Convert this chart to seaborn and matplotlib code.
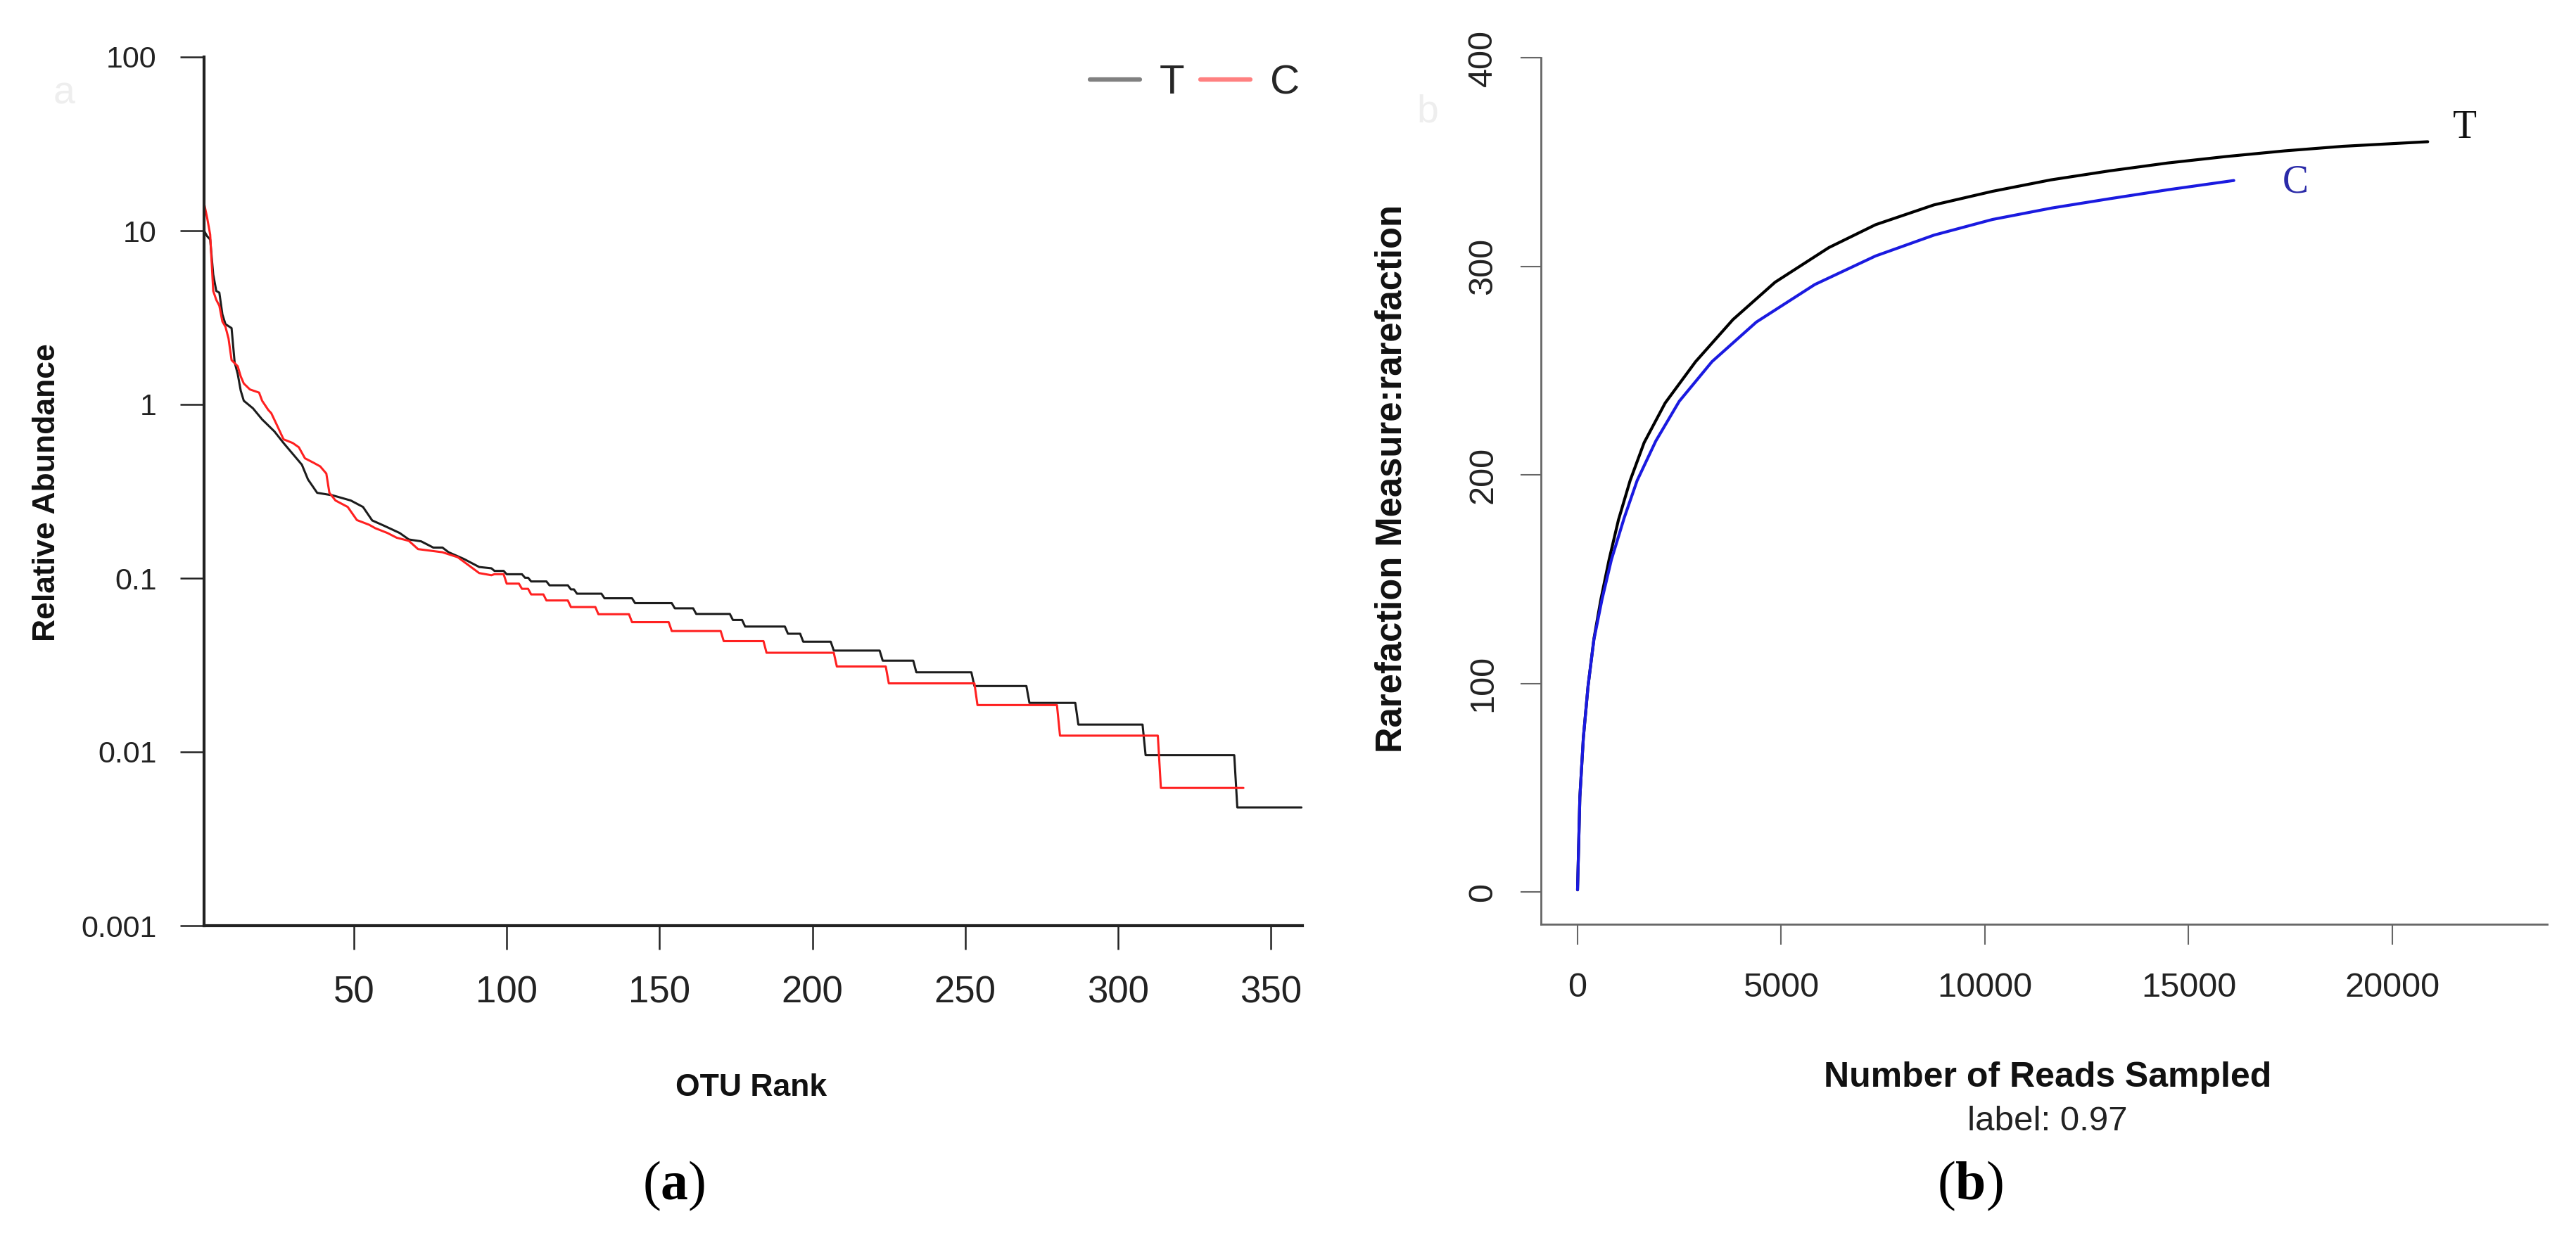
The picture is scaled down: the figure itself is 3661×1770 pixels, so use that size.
import numpy as np
import pandas as pd
import matplotlib
matplotlib.use("Agg")
import matplotlib.pyplot as plt
import seaborn as sns
from matplotlib.lines import Line2D
from matplotlib.ticker import NullLocator

# ---------------------------------------------------------------
# (a) Rank-abundance curves (relative abundance in %)
# ---------------------------------------------------------------
T_TOTAL_READS = 20880
C_TOTAL_READS = 16120

# first ranks
t_head_rank = [1, 2, 3, 4, 5, 6, 7, 8, 10, 11, 12, 13, 14, 17, 20, 24, 27, 30, 33, 35,
               38, 43, 49, 53, 56, 60, 65, 68, 72, 76, 79, 81, 86, 91, 95]
t_head_pct = [10.0, 9.3, 8.9, 5.6, 4.5, 4.4, 3.3, 2.9, 2.75, 1.75, 1.5, 1.2, 1.05, 0.95, 0.82,
              0.70, 0.60, 0.52, 0.45, 0.37, 0.31, 0.30, 0.28, 0.257, 0.215, 0.20, 0.182, 0.167,
              0.163, 0.150, 0.150, 0.141, 0.129, 0.116, 0.114]
# tail: read count of each plateau and the last rank that has it
t_tail_reads = [23, 22, 21, 20, 19, 18, 17, 16, 15, 14, 13, 12, 11, 10, 9, 8, 7, 6, 5, 4, 3, 2, 1]
t_tail_last_rank = [99, 105, 107, 113, 120, 122, 131, 141, 154, 161, 173, 177, 191, 196, 206,
                    222, 233, 252, 270, 286, 308, 338, 360]

c_head_rank = [1, 2, 3, 4, 5, 6, 7, 8, 9, 10, 12, 13, 14, 16, 19, 20, 22, 23, 25, 27, 30, 32,
               34, 37, 39, 41, 42, 44, 48, 51, 55, 57, 61, 64, 68, 71, 79, 84, 91, 95]
c_head_pct = [14.4, 11.9, 9.5, 4.5, 4.0, 3.7, 3.0, 2.8, 2.4, 1.8, 1.66, 1.45, 1.32, 1.22, 1.17,
              1.05, 0.93, 0.89, 0.75, 0.63, 0.60, 0.567, 0.49, 0.46, 0.44, 0.40, 0.31, 0.28,
              0.257, 0.216, 0.203, 0.194, 0.182, 0.171, 0.164, 0.147, 0.141, 0.132, 0.107, 0.104]
c_tail_reads = [17, 15, 14, 13, 12, 11, 10, 9, 8, 7, 6, 5, 4, 3, 2, 1]
c_tail_last_rank = [99, 104, 107, 112, 120, 129, 140, 153, 170, 184, 207, 224, 253, 280, 313, 341]

abund_ticks = [0.001, 0.01, 0.1, 1, 10, 100]
abund_tick_labels = ["0.001", "0.01", "0.1", "1", "10", "100"]
rank_ticks = [50, 100, 150, 200, 250, 300, 350]

# ---------------------------------------------------------------
# (b) Rarefaction curves
# ---------------------------------------------------------------
t_rare_reads = [0, 57, 143, 258, 402, 574, 775, 1004, 1291, 1635, 2151, 2897, 3815, 4848,
                6167, 7315, 8749, 10184, 11618, 13052, 14487, 15921, 17355, 18789, 20869]
t_rare_otus = [1, 45.5, 74, 98.7, 121.4, 140.4, 159.4, 178.4, 197.3, 215.5, 234.5, 254.3,
               274.5, 292.4, 309, 320, 329.5, 336, 341.5, 345.8, 349.6, 352.7, 355.4, 357.6, 359.8]
c_rare_reads = [0, 57, 143, 258, 402, 602, 832, 1147, 1463, 1922, 2496, 3299, 4389, 5823,
                7315, 8749, 10184, 11642, 13074, 14506, 16109]
c_rare_otus = [1, 45.5, 74, 98.7, 121, 140.4, 159.4, 179.5, 197.3, 216.3, 235.3, 254.3,
               273.3, 291.3, 305, 315, 322.5, 328, 332.5, 336.8, 341.2]

reads_ticks = [0, 5000, 10000, 15000, 20000]
otu_ticks = [0, 100, 200, 300, 400]


def rank_curve(name, head_rank, head_pct, tail_reads, tail_last, total):
    ranks = list(head_rank)
    pct = list(head_pct)
    first = int(head_rank[-1]) + 1
    for n, last in zip(tail_reads, tail_last):
        for r in range(first, last + 1):
            ranks.append(r)
            pct.append(n / total * 100.0)
        first = last + 1
    return pd.DataFrame({"rank": ranks, "pct": pct, "sample": name})


abund_df = pd.concat([
    rank_curve("T", t_head_rank, t_head_pct, t_tail_reads, t_tail_last_rank, T_TOTAL_READS),
    rank_curve("C", c_head_rank, c_head_pct, c_tail_reads, c_tail_last_rank, C_TOTAL_READS),
], ignore_index=True)

rare_df = pd.concat([
    pd.DataFrame({"reads": t_rare_reads, "otus": t_rare_otus, "sample": "T"}),
    pd.DataFrame({"reads": c_rare_reads, "otus": c_rare_otus, "sample": "C"}),
], ignore_index=True)

# ---------------------------------------------------------------
# Figure
# ---------------------------------------------------------------
sns.set_theme(style="white")
plt.rcParams["font.family"] = ["Liberation Sans", "DejaVu Sans"]
plt.rcParams["mathtext.fontset"] = "custom"
plt.rcParams["mathtext.rm"] = "Liberation Serif"
plt.rcParams["mathtext.bf"] = "Liberation Serif:bold"

W, H = 3662, 1770
fig = plt.figure(figsize=(W / 100, H / 100), dpi=100, facecolor="white")

# ---- panel (a) ----
ax1 = fig.add_axes([290 / W, 1 - 1316 / H, 1561 / W, 1235 / H])
sns.lineplot(data=abund_df, x="rank", y="pct", hue="sample", hue_order=["T", "C"],
             palette={"T": "#1c1c1c", "C": "#ff2020"}, estimator=None, sort=False,
             linewidth=2.2, legend=False, ax=ax1)
ax1.set_yscale("log")
ax1.set_xlim(1, 360.3)
ax1.set_ylim(0.001, 100)
ax1.set_yticks(abund_ticks)
ax1.set_yticklabels(abund_tick_labels)
ax1.yaxis.set_minor_locator(NullLocator())
ax1.set_xticks(rank_ticks)
ax1.set_xticklabels([str(v) for v in rank_ticks])
ax1.tick_params(axis="y", direction="out", length=24.5, width=1.8, pad=24,
                labelsize=31, colors="#222222", left=True)
ax1.tick_params(axis="x", direction="out", length=24.5, width=1.8, pad=26,
                labelsize=38, colors="#222222", bottom=True)
for side in ["top", "right"]:
    ax1.spines[side].set_visible(False)
for side in ["left", "bottom"]:
    ax1.spines[side].set_color("#222222")
    ax1.spines[side].set_linewidth(3.0)

ax1.set_xlabel("OTU Rank", fontsize=32, fontweight="bold", color="#111111")
ax1.xaxis.set_label_coords(0.4978, -0.187)
ax1.xaxis.label.set_va("center")
ax1.set_ylabel("Relative Abundance", fontsize=32, fontweight="bold", color="#111111")
ax1.yaxis.set_label_coords(-0.1429, 0.4988)
ax1.yaxis.label.set_va("center")

handles = [Line2D([], [], color="#808080", lw=4.5),
           Line2D([], [], color="#ff8080", lw=4.5)]
ax1.legend(handles, ["T", "C"], ncol=2, loc="upper right", bbox_to_anchor=(0.9974, 0.9919),
           frameon=False, fontsize=42, borderpad=0, borderaxespad=0,
           handlelength=1.22, handletextpad=0.47, columnspacing=0.40)

# ---- panel (b) ----
ax2 = fig.add_axes([2190 / W, 1 - 1314 / H, 1430 / W, 1232 / H])
sns.lineplot(data=rare_df, x="reads", y="otus", hue="sample", hue_order=["T", "C"],
             palette={"T": "#000000", "C": "#1a1ae0"}, estimator=None, sort=False,
             linewidth=3.0, legend=False, ax=ax2)
ax2.set_xlim(-898, 23800)
ax2.set_ylim(-15.5, 400.1)
ax2.set_xticks(reads_ticks)
ax2.set_xticklabels([str(v) for v in reads_ticks])
ax2.set_yticks(otu_ticks)
ax2.set_yticklabels([str(v) for v in otu_ticks], rotation=90, va="center")
ax2.tick_params(axis="y", direction="out", length=21, width=1.5, pad=22,
                labelsize=35, colors="#666666", labelcolor="#222222", left=True)
ax2.tick_params(axis="x", direction="out", length=21, width=1.5, pad=28,
                labelsize=35, colors="#666666", labelcolor="#222222", bottom=True)
for side in ["top", "right"]:
    ax2.spines[side].set_visible(False)
for side in ["left", "bottom"]:
    ax2.spines[side].set_color("#666666")
    ax2.spines[side].set_linewidth(2.0)

ax2.set_xlabel("Number of Reads Sampled", fontsize=36, fontweight="bold", color="#111111")
ax2.xaxis.set_label_coords(0.5035, -0.177)
ax2.xaxis.label.set_va("center")
ax2.text(0.5035, -0.228, "label: 0.97", transform=ax2.transAxes, ha="center", va="center",
         fontsize=35.5, color="#222222")
ax2.set_ylabel("Rarefaction Measure:rarefaction", fontsize=36.5, fontweight="bold",
               color="#111111")
ax2.yaxis.set_label_coords(-0.148, 0.514)
ax2.yaxis.label.set_va("center")

ax2.text(21779, 366.4, "T", ha="center", va="center", fontsize=40,
         family="Liberation Serif", color="#111111")
ax2.text(17617, 340.1, "C", ha="center", va="center", fontsize=40,
         family="Liberation Serif", color="#2a2aa8")

# faint panel letters left over in the original images
fig.text(91 / W, 1 - 134 / H, "a", fontsize=40, color="#eeeeee", ha="center", va="center")
fig.text(2029 / W, 1 - 160 / H, "b", fontsize=40, color="#eeeeee", ha="center", va="center")

# sub-figure captions
fig.text(958 / W, 1 - 1686 / H, r"$(\mathbf{a})$", fontsize=56, ha="center", va="center",
         color="#000000")
fig.text(2800 / W, 1 - 1686 / H, r"$(\mathbf{b})$", fontsize=56, ha="center", va="center",
         color="#000000")

fig.savefig("out.png", dpi=100, facecolor="white")
plt.close(fig)
